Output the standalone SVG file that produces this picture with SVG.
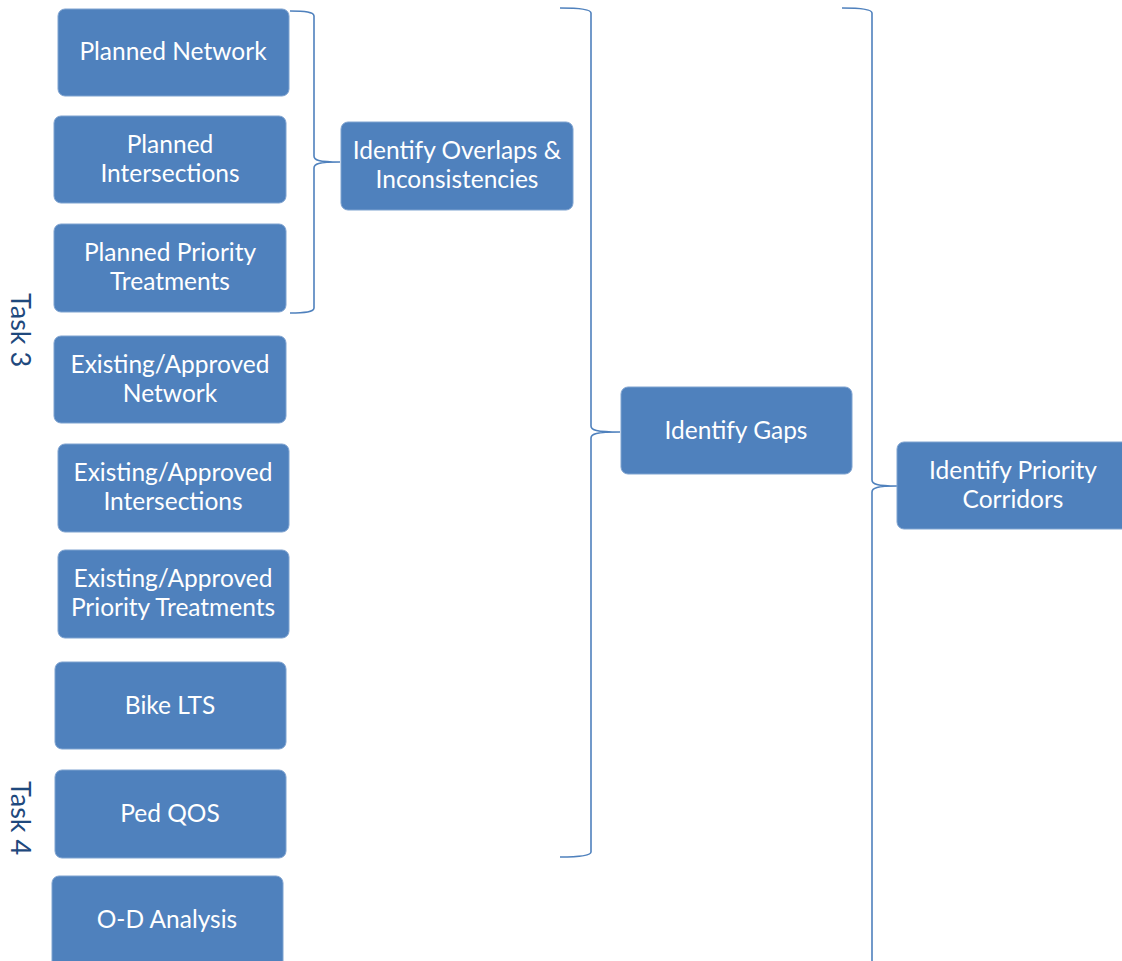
<svg xmlns="http://www.w3.org/2000/svg" width="1122" height="961" viewBox="0 0 1122 961">
<style>
.box{fill:#4F81BD;stroke:#7FA3D0;stroke-width:1}
.t{font-family:Lato,"Liberation Sans",sans-serif;font-size:24.5px;fill:#FFFFFF;text-anchor:middle}
.br{fill:none;stroke:#4F81BD;stroke-width:1.6}
.task{font-family:Lato,"Liberation Sans",sans-serif;font-size:27px;fill:#1F497D;text-anchor:middle}
</style>
<rect width="1122" height="961" fill="#FFFFFF"/>
<g id="connectors">
<path class="br" d="M290,11 C305,11 314,12 314,16 L314,156 C314,160 318,162 340,162 C318,162 314,164 314,168 L314,308 C314,312 305,313 290,313"/>
<path class="br" d="M560,8 C578,8 591,9 591,13 L591,426 C591,430 596,432 620,432 C596,432 591,434 591,438 L591,852 C591,856 578,857 560,857"/>
<path class="br" d="M842,8 C860,8 872,9 872,13 L872,480 C872,484 877,486 897,486 C877,486 872,488 872,492 L872,975"/>
</g>
<g id="task3"><text class="task" transform="translate(11,330) rotate(90)">Task 3</text></g>
<g id="task4"><text class="task" transform="translate(11,818) rotate(90)">Task 4</text></g>
<g id="n1"><rect class="box" x="58" y="9" width="231" height="87" rx="7"/><text class="t" x="173" y="60">Planned Network</text></g>
<g id="n2"><rect class="box" x="54" y="116" width="232" height="87" rx="7"/><text class="t" x="170" y="153">Planned</text><text class="t" x="170" y="182">Intersections</text></g>
<g id="n3"><rect class="box" x="54" y="224" width="232" height="88" rx="7"/><text class="t" x="170" y="261">Planned Priority</text><text class="t" x="170" y="290">Treatments</text></g>
<g id="n4"><rect class="box" x="54" y="336" width="232" height="87" rx="7"/><text class="t" x="170" y="373">Existing/Approved</text><text class="t" x="170" y="402">Network</text></g>
<g id="n5"><rect class="box" x="58" y="444" width="231" height="88" rx="7"/><text class="t" x="173" y="481">Existing/Approved</text><text class="t" x="173" y="510">Intersections</text></g>
<g id="n6"><rect class="box" x="58" y="550" width="231" height="88" rx="7"/><text class="t" x="173" y="587">Existing/Approved</text><text class="t" x="173" y="616">Priority Treatments</text></g>
<g id="n7"><rect class="box" x="55" y="662" width="231" height="87" rx="7"/><text class="t" x="170" y="714">Bike LTS</text></g>
<g id="n8"><rect class="box" x="55" y="770" width="231" height="88" rx="7"/><text class="t" x="170" y="822">Ped QOS</text></g>
<g id="n9"><rect class="box" x="52" y="876" width="231" height="100" rx="7"/><text class="t" x="167" y="928">O-D Analysis</text></g>
<g id="n10"><rect class="box" x="341" y="122" width="232" height="88" rx="7"/><text class="t" x="457" y="159">Identify Overlaps &amp;</text><text class="t" x="457" y="188">Inconsistencies</text></g>
<g id="n11"><rect class="box" x="621" y="387" width="231" height="87" rx="7"/><text class="t" x="736" y="439">Identify Gaps</text></g>
<g id="n12"><rect class="box" x="897" y="442" width="240" height="87" rx="7"/><text class="t" x="1013" y="479">Identify Priority</text><text class="t" x="1013" y="508">Corridors</text></g>
</svg>
